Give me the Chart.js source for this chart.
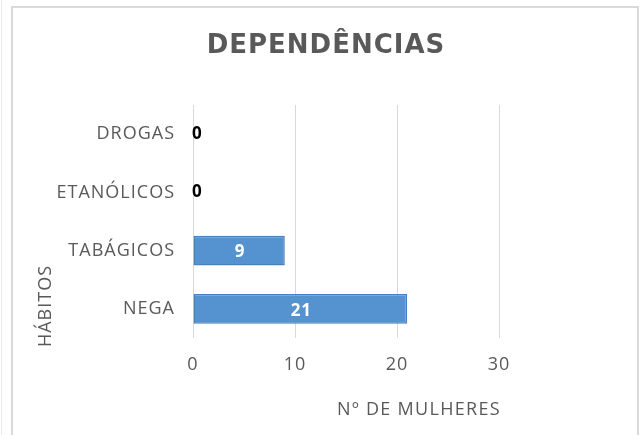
<!DOCTYPE html>
<html>
<head>
<meta charset="utf-8">
<script src="https://cdn.jsdelivr.net/npm/chart.js@4.4.1/dist/chart.umd.min.js"></script>
<style>
    html, body { margin: 0; padding: 0; background: #fff; }
    #holder { position: relative; width: 640px; height: 435px; }
</style>
</head>
<body>
<div id="holder"><canvas id="chart" width="640" height="435"></canvas></div>
<script>
// Chart data
var habitos = ['DROGAS', 'ETANÓLICOS', 'TABÁGICOS', 'NEGA'];
var mulheres = [0, 0, 9, 21];
var xTicks = [0, 10, 20, 30];

var grayText = '#595959';
var fontName = '"Open Sans", "Liberation Sans", sans-serif';

/*
 * Draws the outer frame and the chart title
 */
var framePlugin = {
    id: 'frame',
    beforeDraw: function(chart) {
        var ctx = chart.ctx;
        ctx.save();
        ctx.fillStyle = '#fff';
        ctx.fillRect(0, 0, chart.width, chart.height);
        ctx.strokeStyle = '#d9d9d9';
        ctx.lineWidth = 2;
        ctx.beginPath();
        ctx.moveTo(12, chart.height + 2);
        ctx.lineTo(12, 7);
        ctx.lineTo(638, 7);
        ctx.lineTo(638, chart.height + 2);
        ctx.stroke();
        ctx.strokeStyle = '#ececec';
        ctx.lineWidth = 1;
        ctx.beginPath();
        ctx.moveTo(1.5, 0);
        ctx.lineTo(1.5, chart.height);
        ctx.stroke();

        // Title
        ctx.letterSpacing = '1px';
        ctx.fillStyle = grayText;
        ctx.font = 'bold 26px "DejaVu Sans", sans-serif';
        ctx.textAlign = 'center';
        ctx.textBaseline = 'middle';
        ctx.fillText('DEPENDÊNCIAS', 326, 46);
        ctx.restore();

        // Wider spacing for every other label the library draws
        ctx.letterSpacing = '1px';
    }
};

/*
 * Value labels: inside the bar in white, or black at the base when zero
 */
var valuePlugin = {
    id: 'values',
    afterDatasetsDraw: function(chart) {
        var ctx = chart.ctx;
        var meta = chart.getDatasetMeta(0);
        ctx.save();
        ctx.letterSpacing = '1px';
        ctx.font = 'bold 17px ' + fontName;
        ctx.textBaseline = 'middle';
        meta.data.forEach(function(bar, i) {
            var v = mulheres[i];
            if (v == 0) {
                ctx.fillStyle = '#000';
                ctx.textAlign = 'left';
                ctx.fillText(String(v), bar.base - 1, bar.y);
            } else {
                ctx.fillStyle = '#fff';
                ctx.textAlign = 'center';
                ctx.fillText(String(v), (bar.base + bar.x) / 2 + 1, bar.y + 2);
            }
        });
        ctx.restore();
    }
};

/*
 * Axis titles, placed where the original sheet had them
 */
var axisTitlePlugin = {
    id: 'axisTitles',
    afterDraw: function(chart) {
        var ctx = chart.ctx;
        var area = chart.chartArea;
        ctx.save();
        ctx.letterSpacing = '1.3px';
        ctx.fillStyle = grayText;
        ctx.font = '18px ' + fontName;
        ctx.textAlign = 'center';
        ctx.textBaseline = 'middle';
        ctx.fillText('Nº DE MULHERES', area.left + 226, area.bottom + 72);
        ctx.letterSpacing = '1px';
        ctx.translate(46, area.bottom - 32);
        ctx.rotate(-Math.PI / 2);
        ctx.fillText('HÁBITOS', 0, 0);
        ctx.restore();
    }
};

var chart = new Chart(document.getElementById('chart').getContext('2d'), {
    type: 'bar',
    data: {
        labels: habitos,
        datasets: [{
            data: mulheres,
            backgroundColor: '#5592d0',
            borderColor: '#4a80bc',
            borderWidth: 1.5,
            borderSkipped: false,
            categoryPercentage: 1,
            barPercentage: 0.515
        }]
    },
    options: {
        indexAxis: 'y',
        responsive: false,
        animation: false,
        layout: { padding: { left: 0, right: 141, top: 105, bottom: 0 } },
        plugins: {
            legend: { display: false },
            tooltip: { enabled: false },
            title: { display: false }
        },
        scales: {
            x: {
                min: 0,
                max: 30,
                afterBuildTicks: function(scale) {
                    scale.ticks = xTicks.map(function(v) { return { value: v }; });
                },
                afterFit: function(scale) { scale.height = 97; },
                grid: { color: '#d9d9d9', lineWidth: 1, drawTicks: false },
                border: { display: false },
                ticks: {
                    color: grayText,
                    font: { family: fontName, size: 18 },
                    padding: 16
                }
            },
            y: {
                afterFit: function(scale) { scale.width = 193; },
                grid: { display: false, drawTicks: false },
                border: { display: false },
                ticks: {
                    color: grayText,
                    font: { family: fontName, size: 18 },
                    padding: 18
                }
            }
        }
    },
    plugins: [framePlugin, valuePlugin, axisTitlePlugin]
});
</script>
</body>
</html>
